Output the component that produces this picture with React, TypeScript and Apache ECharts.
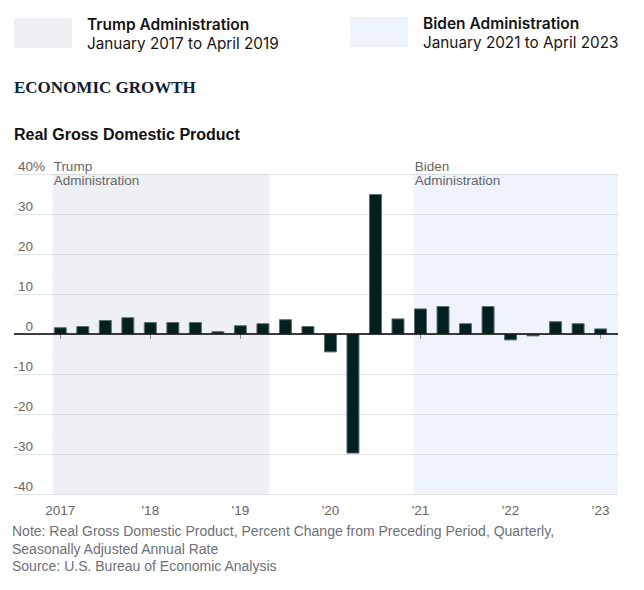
import React, { useEffect, useRef } from "react";
import * as echarts from "echarts";

// ---- Data ----
const quarters = [
  "2017 Q1", "2017 Q2", "2017 Q3", "2017 Q4",
  "2018 Q1", "2018 Q2", "2018 Q3", "2018 Q4",
  "2019 Q1", "2019 Q2", "2019 Q3", "2019 Q4",
  "2020 Q1", "2020 Q2", "2020 Q3", "2020 Q4",
  "2021 Q1", "2021 Q2", "2021 Q3", "2021 Q4",
  "2022 Q1", "2022 Q2", "2022 Q3", "2022 Q4",
  "2023 Q1",
];
const gdpGrowth = [
  1.7, 2.0, 3.5, 4.2,
  3.0, 3.0, 3.0, 0.7,
  2.2, 2.7, 3.7, 2.0,
  -4.6, -29.9, 35.0, 3.9,
  6.4, 7.0, 2.7, 7.0,
  -1.6, -0.6, 3.2, 2.7,
  1.4,
];
const yearTicks = [2017, 2018, 2019, 2020, 2021, 2022, 2023];
const yearTickLabels = ["2017", "'18", "'19", "'20", "'21", "'22", "'23"];
const trumpSpan = [2016.915, 2019.322];
const bidenSpan = [2020.925, 2023.193];
const xRange = [2016.486, 2023.193];

const toX = (q: string) => {
  const [y, qq] = q.split(" Q");
  return Number(y) + (Number(qq) - 1) / 4;
};

const AXIS_GRAY = "#666666";
const NOTE_GRAY = "#6b7079";
const SANS = "Liberation Sans, Arial, sans-serif";

export default function App() {
  const ref = useRef<HTMLDivElement>(null);
  useEffect(() => {
    document.body.style.margin = "0";
    if (!ref.current) return;
    const chart = echarts.init(ref.current, undefined, { renderer: "svg" });
    const labelText = { color: AXIS_GRAY, fontFamily: SANS, fontSize: 13.5, lineHeight: 15 };
    const option: any = {
      animation: false,
      backgroundColor: "#ffffff",
      grid: { left: 14, right: 26, top: 174, bottom: 96, outerBoundsMode: "none" },
      xAxis: {
        type: "value",
        min: xRange[0],
        max: xRange[1],
        axisLine: { show: false },
        splitLine: { show: false },
        axisTick: {
          show: true,
          customValues: yearTicks,
          length: 5,
          lineStyle: { color: "#777777", width: 1 },
        },
        axisLabel: {
          customValues: yearTicks,
          formatter: (v: number) => yearTickLabels[yearTicks.indexOf(Math.round(v))] ?? "",
          color: AXIS_GRAY,
          fontFamily: SANS,
          fontSize: 13.5,
          margin: 9,
        },
      },
      yAxis: {
        type: "value",
        min: -40,
        max: 40,
        interval: 10,
        axisLine: { show: false },
        axisTick: { show: false },
        splitLine: { show: true, lineStyle: { color: "#e3e3e3", width: 1 } },
        axisLabel: {
          margin: -31,
          align: "right",
          verticalAlign: "bottom",
          ...labelText,
          formatter: (v: number) => (v === 40 ? "{n|" + v + "}{p|%}" : "{n|" + v + "}{q|%}"),
          rich: {
            n: { ...labelText },
            p: { ...labelText },
            q: { ...labelText, color: "rgba(0,0,0,0)" },
          },
        },
      },
      series: [
        {
          type: "bar",
          data: quarters.map((q, i) => [toX(q), gdpGrowth[i]]),
          barWidth: 13,
          itemStyle: { color: "#03201f", borderColor: "#5d7070", borderWidth: 1 },
          markArea: {
            silent: true,
            data: [
              [
                {
                  xAxis: trumpSpan[0],
                  itemStyle: { color: "rgba(191,195,207,0.25)" },
                  label: {
                    show: true,
                    formatter: "Trump\nAdministration",
                    position: [1, -15],
                    align: "left",
                    verticalAlign: "top",
                    color: AXIS_GRAY,
                    fontFamily: SANS,
                    fontSize: 13.5,
                    lineHeight: 14,
                  },
                },
                { xAxis: trumpSpan[1] },
              ],
              [
                {
                  xAxis: bidenSpan[0],
                  itemStyle: { color: "rgba(191,211,243,0.25)" },
                  label: {
                    show: true,
                    formatter: "Biden\nAdministration",
                    position: [1, -15],
                    align: "left",
                    verticalAlign: "top",
                    color: AXIS_GRAY,
                    fontFamily: SANS,
                    fontSize: 13.5,
                    lineHeight: 14,
                  },
                },
                { xAxis: bidenSpan[1] },
              ],
            ],
          },
          markLine: {
            silent: true,
            symbol: "none",
            label: { show: false },
            lineStyle: { color: "#000000", width: 1.5, type: "solid" },
            data: [{ yAxis: 0 }],
          },
        },
      ],
      graphic: [
        { type: "rect", shape: { x: 14, y: 18, width: 58, height: 30 }, style: { fill: "#eff0f3" } },
        {
          type: "text", x: 87, y: 24,
          style: { text: "Trump Administration", fill: "#151515", font: "600 15.5px Inter, sans-serif", verticalAlign: "middle" },
        },
        {
          type: "text", x: 87, y: 43,
          style: { text: "January 2017 to April 2019", fill: "#151515", font: "400 15.3px Inter, sans-serif", verticalAlign: "middle" },
        },
        { type: "rect", shape: { x: 350, y: 17, width: 58, height: 30 }, style: { fill: "#eff4fc" } },
        {
          type: "text", x: 423, y: 23,
          style: { text: "Biden Administration", fill: "#151515", font: "600 15.5px Inter, sans-serif", verticalAlign: "middle" },
        },
        {
          type: "text", x: 423, y: 42,
          style: { text: "January 2021 to April 2023", fill: "#151515", font: "400 15.3px Inter, sans-serif", verticalAlign: "middle" },
        },
        {
          type: "text", x: 14, y: 87,
          style: { text: "ECONOMIC GROWTH", fill: "#0c2032", font: "bold 17px 'Liberation Serif', serif", verticalAlign: "middle" },
        },
        {
          type: "text", x: 14, y: 134.5,
          style: { text: "Real Gross Domestic Product", fill: "#111111", font: "bold 16px 'Liberation Sans', Arial, sans-serif", verticalAlign: "middle" },
        },
        {
          type: "text", x: 12, y: 531,
          style: { text: "Note: Real Gross Domestic Product, Percent Change from Preceding Period, Quarterly,", fill: NOTE_GRAY, font: "14px 'Liberation Sans', Arial, sans-serif", verticalAlign: "middle" },
        },
        {
          type: "text", x: 12, y: 548.5,
          style: { text: "Seasonally Adjusted Annual Rate", fill: NOTE_GRAY, font: "14px 'Liberation Sans', Arial, sans-serif", verticalAlign: "middle" },
        },
        {
          type: "text", x: 12, y: 566.3,
          style: { text: "Source: U.S. Bureau of Economic Analysis", fill: NOTE_GRAY, font: "14px 'Liberation Sans', Arial, sans-serif", verticalAlign: "middle" },
        },
      ],
    };
    chart.setOption(option);
    return () => chart.dispose();
  }, []);
  return <div ref={ref} style={{ width: 644, height: 590 }} />;
}
